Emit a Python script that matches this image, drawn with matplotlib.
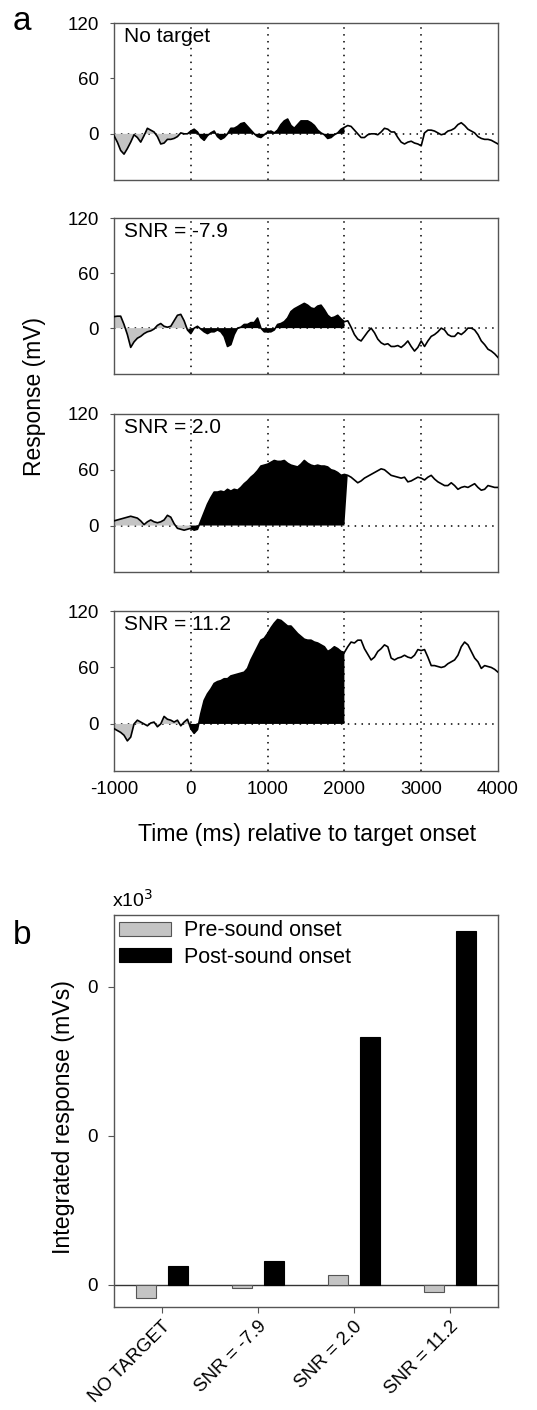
import numpy as np
import matplotlib
matplotlib.use("Agg")
import matplotlib.pyplot as plt

plt.rcParams['font.family'] = ['Liberation Sans', 'DejaVu Sans']
plt.rcParams['axes.unicode_minus'] = False

# ---------------- Panel a data (mV), sampled uniformly from -1000 to 4000 ms ----------------
trace_no_target = [-2, -9, -18, -22, -16, -9, -1, -4, -9, -2, 6, 4, 2, -3, -11, -10, -6, -6, -5, -3,
                   1, 0, 0, 3, 5, 2, -4, -7, -2, 1, 3, -3, -6, -4, 0, 6, 6, 8, 11, 12,
                   8, 4, 0, -3, -4, -1, 2, 3, 1, 4, 10, 14, 16, 9, 6, 10, 14, 14, 14, 12,
                   9, 4, 1, -1, -5, -4, -1, 1, 5, 7, 9, 8, 4, 0, -4, -4, -1, 0, 0, -1,
                   2, 6, 5, 2, 2, -4, -9, -11, -9, -8, -10, -11, -13, 1, 4, 4, 3, 1, -1, 0,
                   3, 4, 6, 10, 12, 9, 5, 3, 1, -3, -5, -6, -6, -7, -9, -11]
trace_snr_m79 = [12.5, 13, 13, 4, -7, -21, -15, -11, -9, -6, -4, -3, -1, 3, 5, 2, 1, 2, 8, 14,
                 15, 8, -2, -6, 0, 2, -1, -4, -6, -4, -4, -2, -4, -9, -20, -18, -7, 0, 1, 4,
                 4, 6, 6, 11, 0, -4, -4, -4, -2, 4, 5, 7, 11, 18, 21, 23, 25, 27, 25, 22,
                 21, 24, 25, 20, 14, 11, 12, 14, 10, 7, 8, 1, -7, -12, -14, -9, -4, 0, -5, -12,
                 -16, -18, -17, -20, -20, -19, -21, -18, -14, -20, -25, -21, -14, -20, -14, -9, -7, -4, 0, -2,
                 -7, -9, -9, -5, -7, -4, 0, 0, -2, -7, -14, -18, -23, -25, -28, -32]
trace_snr_20 = [5, 6, 7, 8, 9, 10, 9, 8, 5, 1, 4, 6, 4, 3, 4, 6, 11, 9, 2, -3,
                -4, -5, -4, -3, -5, -4, 5, 14, 23, 30, 36, 36, 37, 36, 39, 37, 39, 38, 41, 45,
                48, 52, 55, 59, 64, 65, 66, 68, 70, 69, 69, 70, 67, 65, 64, 63, 66, 70, 67, 65,
                64, 65, 64, 64, 63, 60, 59, 57, 54, 55, 54, 52, 49, 46, 48, 51, 53, 55, 57, 59,
                61, 60, 57, 54, 53, 52, 51, 52, 47, 48, 50, 52, 51, 49, 52, 54, 50, 47, 45, 43,
                43, 46, 43, 39, 41, 42, 41, 43, 45, 41, 38, 39, 43, 42, 41, 41]
trace_snr_112 = [-5, -7, -9, -12, -18, -14, 0, 4, 2, 0, -2, 1, 2, -3, 0, 8, 5, 4, 2, 4,
                 -2, 2, 5, -5, -10, -6, 11, 25, 32, 37, 43, 45, 46, 48, 48, 51, 52, 53, 54, 55,
                 59, 68, 75, 82, 89, 91, 96, 102, 107, 111, 110, 107, 104, 104, 100, 96, 93, 90, 89, 89,
                 87, 86, 84, 82, 77, 79, 82, 80, 77, 76, 82, 87, 86, 89, 89, 80, 74, 68, 71, 77,
                 80, 84, 82, 70, 68, 70, 71, 73, 71, 70, 73, 79, 78, 79, 71, 62, 62, 61, 60, 61,
                 64, 66, 68, 73, 82, 87, 84, 77, 70, 66, 59, 62, 61, 60, 58, 55]
traces = [trace_no_target, trace_snr_m79, trace_snr_20, trace_snr_112]
trace_titles = ["No target", "SNR = -7.9", "SNR = 2.0", "SNR = 11.2"]
t_start, t_end = -1000, 4000
x_ticks = [-1000, 0, 1000, 2000, 3000, 4000]
y_ticks_a = [0, 60, 120]

# ---------------- Panel b data (x10^3 mVs) ----------------
categories = ["NO TARGET", "SNR = -7.9", "SNR = 2.0", "SNR = 11.2"]
pre_sound = [-0.9, -0.2, 0.62, -0.52]
post_sound = [1.23, 1.6, 16.6, 23.7]
y_ticks_b = [0, 10, 20]
y_ticklabels_b = ["0", "0", "0"]

W, H = 537, 1410
fig = plt.figure(figsize=(W / 100, H / 100), dpi=100)

def frac_box(left, top, right, bottom):
    return [left / W, 1 - bottom / H, (right - left) / W, (bottom - top) / H]

spine_col = '#555555'
pre_col = '#c4c4c4'

boxes = [(114, 23, 498, 180), (114, 218, 498, 374), (114, 414, 498, 572), (114, 611, 498, 771)]
for i, (vals, title, box) in enumerate(zip(traces, trace_titles, boxes)):
    ax = fig.add_axes(frac_box(*box))
    v = np.array(vals, dtype=float)
    t = np.linspace(t_start, t_end, len(v))
    ax.fill_between(t, v, 0, where=t <= 0, interpolate=True, facecolor=pre_col,
                    edgecolor='none', zorder=2)
    ax.fill_between(t, v, 0, where=(t >= 0) & (t <= 2000), interpolate=True,
                    facecolor='black', edgecolor='none', zorder=2)
    ax.axhline(0, color='black', lw=1.1, ls=(0, (1, 3.5)), zorder=1)
    for xv in x_ticks[1:-1]:
        ax.axvline(xv, color='black', lw=1.1, ls=(0, (1, 3.5)), zorder=1)
    ax.plot(t, v, color='black', lw=1.2, zorder=3)
    ax.set_xlim(t_start, t_end)
    ax.set_ylim(-50, 120)
    ax.set_yticks(y_ticks_a)
    ax.set_xticks(x_ticks)
    ax.tick_params(axis='both', direction='out', length=3, width=0.8, color=spine_col,
                   labelsize=13.5, pad=8)
    if i < 3:
        ax.set_xticklabels([])
        ax.tick_params(axis='x', length=0)
    else:
        ax.tick_params(axis='x', length=0, pad=7)
    for s in ax.spines.values():
        s.set_color(spine_col)
        s.set_linewidth(1.0)
    ax.text(0.025, 0.975, title, transform=ax.transAxes, ha='left', va='top', fontsize=15)

fig.text(35 / W, 1 - 397 / H, "Response (mV)", rotation=90, ha='center', va='center', fontsize=16.5)
fig.text(307 / W, 1 - 835 / H, "Time (ms) relative to target onset", ha='center', va='center',
         fontsize=16.7)
fig.text(22 / W, 1 - 22 / H, "a", ha='center', va='center', fontsize=24)
fig.text(22 / W, 1 - 936 / H, "b", ha='center', va='center', fontsize=24)

# ---------------- Panel b ----------------
axb = fig.add_axes(frac_box(114, 915, 498, 1307))
x = np.arange(len(categories))
bw = 0.205
off = 0.168
axb.bar(x - off, pre_sound, bw, color=pre_col, edgecolor='#555555', lw=0.8,
        label="Pre-sound onset", zorder=3)
axb.bar(x + off, post_sound, bw, color='black', edgecolor='black', lw=0.8,
        label="Post-sound onset", zorder=3)
axb.axhline(0, color='#333333', lw=1.0, zorder=2)
axb.set_xlim(-0.5, len(categories) - 0.5)
axb.set_ylim(-1.5, 24.8)
axb.set_yticks(y_ticks_b)
axb.set_yticklabels(y_ticklabels_b)
axb.set_xticks(x)
axb.set_xticklabels(categories, rotation=45, ha='right', rotation_mode='anchor')
axb.tick_params(axis='both', direction='out', length=4, width=0.8, color=spine_col,
                labelsize=13.5, pad=8)
axb.tick_params(axis='x', pad=4)
for s in axb.spines.values():
    s.set_color(spine_col)
    s.set_linewidth(1.0)
fig.text(64 / W, 1 - 1117 / H, "Integrated response (mVs)", rotation=90, ha='center',
         va='center', fontsize=16.7)
axb.text(-0.005, 1.01, r"x10$^3$", transform=axb.transAxes, ha='left', va='bottom', fontsize=14)
leg = axb.legend(loc='upper left', frameon=False, fontsize=15.5, handlelength=2.4,
                 handleheight=0.65, handletextpad=0.6, borderaxespad=0.2, labelspacing=0.25,
                 borderpad=0.05)

fig.savefig("out.png", dpi=100)
